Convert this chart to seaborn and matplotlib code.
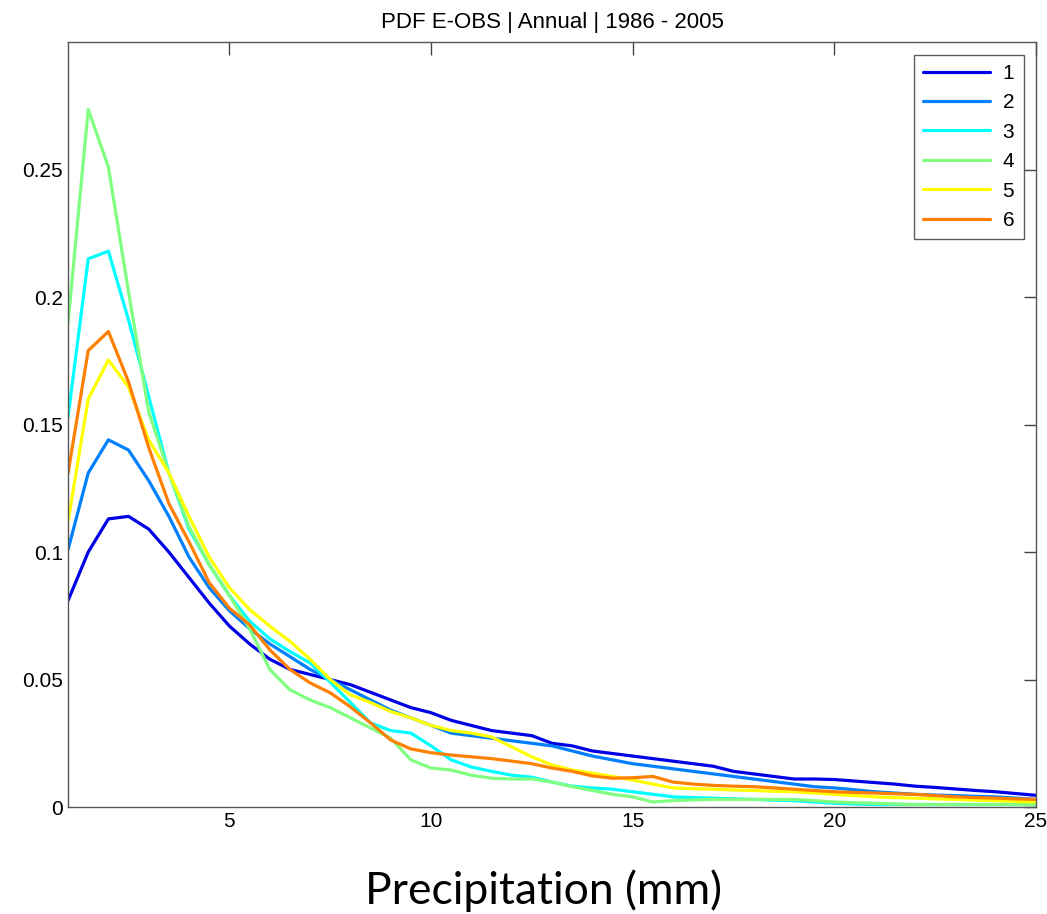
import numpy as np
import pandas as pd
import matplotlib
matplotlib.use("Agg")
import matplotlib.pyplot as plt
import seaborn as sns

x_vals = np.arange(1, 25.01, 0.5)

s1 = [0.081, 0.100, 0.113, 0.114, 0.109, 0.100, 0.090, 0.080, 0.071, 0.064,
      0.058, 0.054, 0.052, 0.050, 0.048, 0.045, 0.042, 0.039, 0.037, 0.034,
      0.032, 0.030, 0.029, 0.028, 0.025, 0.024, 0.022, 0.021, 0.020, 0.019,
      0.018, 0.017, 0.016, 0.014, 0.013, 0.012, 0.011, 0.011, 0.0108, 0.0102,
      0.0096, 0.009, 0.0082, 0.0077, 0.0071, 0.0065, 0.006, 0.0053, 0.0046]
s2 = [0.101, 0.131, 0.144, 0.140, 0.128, 0.114, 0.098, 0.086, 0.077, 0.070,
      0.064, 0.059, 0.054, 0.050, 0.046, 0.042, 0.038, 0.035, 0.032, 0.029,
      0.028, 0.027, 0.026, 0.025, 0.024, 0.022, 0.020, 0.0185, 0.017, 0.016,
      0.015, 0.014, 0.013, 0.012, 0.011, 0.010, 0.009, 0.008, 0.0075, 0.0068,
      0.006, 0.0055, 0.005, 0.0047, 0.0045, 0.0042, 0.004, 0.0035, 0.003]
s3 = [0.153, 0.215, 0.218, 0.191, 0.161, 0.131, 0.109, 0.095, 0.083, 0.073,
      0.066, 0.061, 0.0565, 0.049, 0.041, 0.033, 0.030, 0.029, 0.024, 0.0185,
      0.0157, 0.014, 0.0125, 0.0117, 0.0098, 0.0082, 0.0075, 0.007, 0.006, 0.005,
      0.004, 0.0037, 0.0035, 0.0032, 0.003, 0.0027, 0.0025, 0.002, 0.0015, 0.0012,
      0.001, 0.001, 0.001, 0.001, 0.001, 0.001, 0.001, 0.001, 0.001]
s4 = [0.190, 0.2736, 0.251, 0.202, 0.155, 0.131, 0.110, 0.095, 0.083, 0.070,
      0.054, 0.046, 0.042, 0.039, 0.035, 0.031, 0.027, 0.0185, 0.0153, 0.0145,
      0.0125, 0.0113, 0.011, 0.011, 0.0098, 0.008, 0.0065, 0.005, 0.004, 0.002,
      0.0025, 0.0028, 0.003, 0.003, 0.003, 0.003, 0.003, 0.0025, 0.002, 0.0017,
      0.0015, 0.0012, 0.001, 0.001, 0.001, 0.001, 0.001, 0.001, 0.001]
s5 = [0.112, 0.160, 0.1753, 0.1647, 0.144, 0.131, 0.114, 0.098, 0.086, 0.0775,
      0.071, 0.065, 0.058, 0.050, 0.044, 0.041, 0.0375, 0.035, 0.032, 0.030,
      0.029, 0.0275, 0.0236, 0.0197, 0.0165, 0.0145, 0.0133, 0.012, 0.0106, 0.009,
      0.0075, 0.0072, 0.007, 0.0067, 0.0065, 0.0062, 0.006, 0.0055, 0.005, 0.0045,
      0.004, 0.0037, 0.0035, 0.0032, 0.003, 0.0027, 0.0025, 0.0022, 0.002]
s6 = [0.131, 0.179, 0.1865, 0.1667, 0.141, 0.119, 0.104, 0.088, 0.078, 0.0715,
      0.0617, 0.054, 0.0487, 0.0448, 0.0393, 0.033, 0.0263, 0.0228, 0.0213, 0.0204,
      0.0197, 0.019, 0.018, 0.017, 0.0153, 0.014, 0.0122, 0.0113, 0.0115, 0.012,
      0.0098, 0.009, 0.0085, 0.0082, 0.008, 0.0075, 0.007, 0.0065, 0.006, 0.0057,
      0.0055, 0.0052, 0.005, 0.0045, 0.004, 0.0037, 0.0035, 0.0032, 0.003]

series_names = ["1", "2", "3", "4", "5", "6"]
series_vals = [s1, s2, s3, s4, s5, s6]
colors = ["#0000E6", "#0080FF", "#00FFFF", "#80FF80", "#FFFF00", "#FF8000"]

x_ticks = [5, 10, 15, 20, 25]
y_ticks = [0, 0.05, 0.1, 0.15, 0.2, 0.25]
y_ticklabels = ["0", "0.05", "0.1", "0.15", "0.2", "0.25"]

df = pd.concat([pd.DataFrame({"x": x_vals, "y": v, "series": n})
                for n, v in zip(series_names, series_vals)], ignore_index=True)

sns.set_style("white")
plt.rcParams["font.family"] = ["Liberation Sans", "DejaVu Sans"]
plt.rcParams["text.color"] = "black"

fig = plt.figure(figsize=(10.47, 9.14), dpi=100)
ax = fig.add_axes([0.065, 0.117, 0.9245, 0.837])
sns.lineplot(data=df, x="x", y="y", hue="series", palette=colors,
             linewidth=2.3, ax=ax, legend=True)

ax.set_xlim(1, 25)
ax.set_ylim(0, 0.3)
ax.set_xticks(x_ticks)
ax.set_yticks(y_ticks)
ax.set_yticklabels(y_ticklabels)
ax.tick_params(axis="both", direction="in", length=9, width=1, labelsize=15,
               top=True, right=True, colors="#444444", labelcolor="black")
for sp in ax.spines.values():
    sp.set_color("#555555")
    sp.set_linewidth(1)
ax.set_ylabel("")
ax.set_xlabel("Precipitation (mm)", fontsize=32, family=["Lato", "DejaVu Sans"],
              color="black")
ax.xaxis.set_label_coords(0.491, -0.082, transform=ax.transAxes)
ax.xaxis.label.set_verticalalignment("top")
ax.set_title("PDF E-OBS | Annual | 1986 - 2005", fontsize=16, pad=10,
             color="black")

leg = ax.legend(loc="upper right", fontsize=15, frameon=True, fancybox=False,
                handlelength=3.2, borderaxespad=0.6, labelspacing=0.5,
                handletextpad=0.6, borderpad=0.45)
leg.get_frame().set_edgecolor("#333333")
leg.get_frame().set_linewidth(1)
leg.set_title(None)
for t in leg.get_texts():
    t.set_color("black")

fig.savefig("out.png", dpi=100)
